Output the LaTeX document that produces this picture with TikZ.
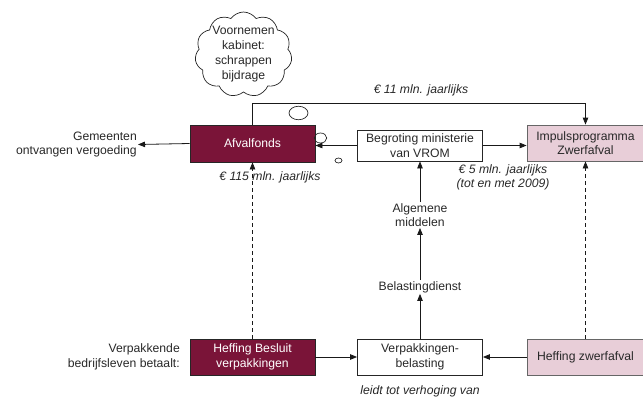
\documentclass[tikz,border=0pt]{standalone}
\usepackage{fontspec}
\setmainfont{Liberation Sans}
\usetikzlibrary{arrows.meta,shapes.symbols,shapes.geometric,calc}
\definecolor{maroon}{RGB}{122,20,56}
\definecolor{pinkbox}{RGB}{232,206,216}
\definecolor{txt}{RGB}{40,40,40}
\begin{document}
\begin{tikzpicture}[x=1pt,y=-1pt,
  font=\fontsize{12.2}{14.5}\selectfont,
  box/.style={draw=black!85,line width=0.8pt,minimum width=125pt,minimum height=36pt,align=center,inner sep=1pt,text=txt},
  darkbox/.style={box,fill=maroon,text=white},
  lightbox/.style={box,fill=pinkbox,draw=black!60},
  plain/.style={align=center,text=txt,inner sep=1pt},
  lab/.style={font=\fontsize{12.2}{14.5}\selectfont\itshape,text=txt,align=center,inner sep=1pt},
  bubble/.style={draw=black!85,line width=0.7pt,ellipse,inner sep=0pt},
  conn/.style={line width=0.8pt,draw=black!90,-{Triangle[length=7pt,width=5.5pt]}},
  dconn/.style={conn,dash pattern=on 4pt off 3pt}]
\useasboundingbox (0,0) rectangle (643,399);
% boxes
\node[darkbox,minimum height=37pt] (afval) at (252.5,143.5) {Afvalfonds};
\node[box,minimum height=31pt] (begr) at (420,145.5) {Begroting ministerie\\van VROM};
\node[lightbox,minimum width=117pt] (impuls) at (585.5,143) {Impulsprogramma\\Zwerfafval};
\node[darkbox] (heffb) at (252.5,357) {Heffing Besluit\\verpakkingen};
\node[box] (verp) at (420,357) {Verpakkingen-\\belasting};
\node[lightbox,minimum width=117pt] (heffz) at (585.5,357) {Heffing zwerfafval};
% free texts
\node[plain,align=right,anchor=east] (gem) at (138,144.5) {Gemeenten\\ontvangen vergoeding};
\node[plain,align=right,anchor=east] (verpb) at (181,357) {Verpakkende\\bedrijfsleven betaalt:};
\node[plain] (alg) at (420,215) {Algemene\\middelen};
\node[plain] (bel) at (420,287) {Belastingdienst};
\node[lab] (l11) at (421,90) {€ 11 mln. jaarlijks};
\node[lab] (l115) at (270,177) {€ 115 mln. jaarlijks};
\node[lab] (l5) at (503,177.5) {€ 5 mln. jaarlijks\\(tot en met 2009)};
\node[lab] (leidt) at (420,391) {leidt tot verhoging van};
% cloud
\node[cloud,draw=black!85,line width=0.7pt,cloud puffs=11,cloud puff arc=110,minimum width=97pt,minimum height=85pt,inner sep=0pt] (cloud) at (243.5,54.5) {};
\node[plain,font=\fontsize{12.2}{15}\selectfont] (cloudtxt) at (cloud.center) {Voornemen\\kabinet:\\schrappen\\bijdrage};
\node[bubble,minimum width=19pt,minimum height=13.5pt] (b1) at (298.5,113) {};
\node[bubble,minimum width=12.5pt,minimum height=10pt] (b2) at (320.5,138) {};
\node[bubble,minimum width=7pt,minimum height=5pt] (b3) at (338.5,160.5) {};
% connectors
\coordinate (c1) at (252.5,103);
\coordinate (c2) at (585.5,103);
\draw[conn] (afval.north) -- (c1) -- (c2) -- (impuls.north);
\draw[conn] (begr.west) -- (afval.east |- begr.west);
\draw[conn] (afval.west) -- (gem.east);
\draw[conn] (begr.east) -- (impuls.west |- begr.east);
\draw[conn] (alg.north) -- (begr.south);
\draw[conn] (bel.north) -- (alg.south);
\draw[conn] (verp.north) -- (bel.south);
\draw[conn] (heffb.east) -- (verp.west);
\draw[conn] (heffz.west) -- (verp.east);
\draw[dconn] (heffb.north) -- (afval.south);
\draw[dconn] (heffz.north) -- (impuls.south);
\end{tikzpicture}
\end{document}
